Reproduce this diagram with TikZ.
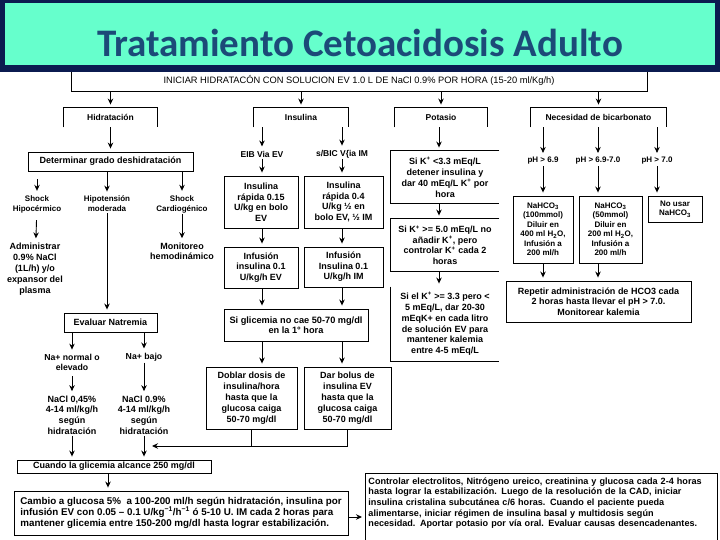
\documentclass[tikz,border=0pt]{standalone}
\usepackage{fontspec}
\setmainfont{Liberation Sans}
\newfontfamily\titlefont{Carlito}
\usepackage{graphicx}
\usepackage{tikz}
\usetikzlibrary{arrows.meta, calc}

\definecolor{bannernavy}{HTML}{0B1B50}
\definecolor{banneraqua}{HTML}{66FFCC}
\definecolor{titleblue}{HTML}{1C4A78}

\begin{document}
\begin{tikzpicture}[x=1pt, y=-1pt, line width=0.9pt,
    box/.style={draw, align=center, inner sep=0pt, font=\bfseries\fontsize{9}{10.5}\selectfont},
    lbl/.style={align=center, inner sep=1pt, font=\bfseries\fontsize{8}{10}\selectfont},
    brk/.style={align=center, inner sep=0pt, minimum height=19pt, font=\bfseries\fontsize{8.5}{10}\selectfont},
    arr/.style={-{Stealth[length=6pt, width=5.5pt]}, shorten >=3pt}]
    \useasboundingbox (0,0) rectangle (720,540);

    \node[box, font=\fontsize{9.3}{10}\selectfont, minimum width=576pt, minimum height=21pt] (start) at (359,80.5)
        {INICIAR HIDRATACÓN CON SOLUCION EV 1.0 L DE NaCl 0.9\% POR HORA (15-20 ml/Kg/h)};
    \fill[bannernavy] (0,0) rectangle (720,72);
    \fill[banneraqua] (5,3) rectangle (715,65);
    \node[font=\titlefont\bfseries\fontsize{39}{42}\selectfont, text=titleblue] (title) at (360,43) {Tratamiento Cetoacidosis Adulto};

    \node[brk, minimum width=93pt] (hid) at (110.5,117.5) {Hidratación};
    \node[brk, minimum width=94pt] (ins) at (301,117.5) {Insulina};
    \node[brk, minimum width=92pt] (pot) at (441,117.5) {Potasio};
    \node[brk, minimum width=135pt] (bic) at (598.5,117.5) {Necesidad de bicarbonato};
    \foreach \b in {hid, ins, pot, bic} {
        \draw (\b.south west) |- (\b.north east) -- (\b.south east);
        \draw[arr] (start.south -| \b) -- (\b.north);
    }

    \node[box, minimum width=165pt, minimum height=19pt, font=\bfseries\fontsize{9}{10}\selectfont] (det) at (110.5,161.5) {Determinar grado deshidratación};
    \draw[arr] (hid.south) -- (det.north);
    \node[lbl] (shk1) at (37,204) {Shock\\Hipocérmico};
    \node[lbl] (hipo) at (107,204) {Hipotensión\\moderada};
    \node[lbl] (shk2) at (182,204) {Shock\\Cardiogénico};
    \draw[arr, shorten <=8pt] (det.south -| shk1) -- (shk1);
    \draw[arr] (det.south -| hipo) -- (hipo);
    \draw[arr] (det.south -| shk2) -- (shk2);
    \node[lbl, font=\bfseries\fontsize{9}{11}\selectfont] (adm) at (35,269) {Administrar\\0.9\% NaCl\\(1L/h) y/o\\expansor del\\plasma};
    \node[lbl, font=\bfseries\fontsize{9}{10}\selectfont] (mon) at (182,251) {Monitoreo\\hemodinámico};
    \draw[arr, shorten <=6pt] (shk1) -- (adm);
    \draw[arr] (shk2) -- (mon);

    \node[box, minimum width=93pt, minimum height=19pt] (nat) at (110.5,322.5) {Evaluar Natremia};
    \draw[arr] (hipo) -- (hipo |- nat.north);
    \node[lbl, font=\bfseries\fontsize{8.7}{10.5}\selectfont] (nan) at (72,362.5) {Na+ normal o\\elevado};
    \node[lbl, font=\bfseries\fontsize{8.7}{10.5}\selectfont] (nab) at (144,357) {Na+ bajo};
    \draw[arr] (nat.south -| nan) -- (nan);
    \draw[arr] (nat.south -| nab) -- (nab);
    \node[lbl, font=\bfseries\fontsize{9}{10.7}\selectfont] (nacl1) at (72,415) {NaCl 0,45\%\\4-14 ml/kg/h\\según\\hidratación};
    \node[lbl, font=\bfseries\fontsize{9}{10.7}\selectfont] (nacl2) at (144,415) {NaCl 0.9\%\\4-14 ml/kg/h\\según\\hidratación};
    \draw[arr, shorten <=4pt] (nan) -- (nacl1);
    \draw[arr] (nab) -- (nacl2);

    \node[box, minimum width=194pt, minimum height=13pt, font=\bfseries\fontsize{9}{10}\selectfont] (cuando) at (114,466.5) {Cuando la glicemia alcance 250 mg/dl};
    \draw[arr] (nacl1) -- (nacl1 |- cuando.north);
    \draw[arr] (nacl2) -- (nacl2 |- cuando.north);
    \node[box, minimum width=334pt, minimum height=44pt, align=left, font=\bfseries\fontsize{9.8}{11}\selectfont] (cambio) at (181,513)
        {Cambio a glucosa 5\%\ \ a 100-200 ml/h según hidratación, insulina por\\
         infusión EV con 0.05 – 0.1 U/kg\textsuperscript{−1}/h\textsuperscript{−1} ó 5-10 U. IM cada 2 horas para\\
         mantener glicemia entre 150-200 mg/dl hasta lograr estabilización.};
    \draw[arr] ([xshift=-6pt]cuando.south) -- ([xshift=-6pt]cuando.south |- cambio.north);
    \node[box, anchor=north west, text width=346pt, inner xsep=3pt, inner ysep=4pt, align=left, font=\bfseries\fontsize{9.1}{10.7}\selectfont] (contr) at (365,473)
        {Controlar electrolitos, Nitrógeno ureico, creatinina y glucosa cada 2-4 horas\\
         hasta lograr la estabilización. Luego de la resolución de la CAD, iniciar\\
         insulina cristalina subcutánea c/6 horas. Cuando el paciente pueda\\
         alimentarse, iniciar régimen de insulina basal y multidosis según\\
         necesidad. Aportar potasio por vía oral. Evaluar causas desencadenantes.\\ ~};
    \draw[arr] ([yshift=-4pt]cambio.east) -- ([yshift=-4pt]cambio.east -| contr.west);

    \node[lbl, font=\bfseries\fontsize{8.5}{10}\selectfont] (eib) at (262,154) {EIB Via EV};
    \node[lbl, font=\bfseries\fontsize{8.5}{10}\selectfont] (sbic) at (342,154) {s/BIC V\{ia IM};
    \draw[arr] (ins.south -| eib) -- (eib);
    \draw[arr] (ins.south -| sbic) -- (sbic);
    \node[box, minimum width=74pt, minimum height=52pt] (r15) at (261,202) {Insulina\\rápida 0.15\\U/kg en bolo\\EV};
    \node[box, minimum width=79pt, minimum height=52pt] (r04) at (343.5,202) {Insulina\\rápida 0.4\\U/kg ½ en\\bolo EV, ½ IM};
    \draw[arr] (eib) -- (eib |- r15.north);
    \draw[arr] (sbic) -- (sbic |- r04.north);
    \node[box, minimum width=74pt, minimum height=41pt] (inf1) at (261,267.5) {Infusión\\insulina 0.1\\U/kg/h EV};
    \node[box, minimum width=79pt, minimum height=40pt] (inf2) at (343.5,267) {Infusión\\Insulina 0.1\\U/kg/h IM};
    \draw[arr] (r15.south -| eib) -- (eib |- inf1.north);
    \draw[arr] (r04.south -| sbic) -- (sbic |- inf2.north);
    \node[box, minimum width=144pt, minimum height=32pt, font=\bfseries\fontsize{9.2}{10}\selectfont] (sig) at (296,325) {Si glicemia no cae 50-70 mg/dl\\en la 1° hora};
    \draw[arr] (inf1.south -| eib) -- (eib |- sig.north);
    \draw[arr] (inf2.south -| sbic) -- (sbic |- sig.north);
    \node[box, minimum width=91pt, minimum height=62pt, font=\bfseries\fontsize{9}{11}\selectfont] (dob) at (251.5,398) {Doblar dosis de\\insulina/hora\\hasta que la\\glucosa caiga\\50-70 mg/dl};
    \node[box, minimum width=87pt, minimum height=62pt, font=\bfseries\fontsize{9}{11}\selectfont] (dar) at (347.5,398) {Dar bolus de\\insulina EV\\hasta que la\\glucosa caiga\\50-70 mg/dl};
    \draw[arr] (sig.south -| eib) -- (eib |- dob.north);
    \draw[arr] (sig.south -| sbic) -- (sbic |- dar.north);
    \coordinate (jn) at (347.5,446);
    \coordinate (jtip) at (152,446);
    \draw (dob.south) -- (dob.south |- jn);
    \draw (dar.south) -- (jn);
    \draw[arr, shorten >=0pt] (jn) -- (jtip);

    \node[box, draw=none, minimum width=108pt, minimum height=52pt, font=\bfseries\fontsize{9}{11}\selectfont] (k1) at (445,177)
        {Si K\textsuperscript{+} <3.3 mEq/L\\detener insulina y\\dar 40 mEq/L K\textsuperscript{+} por\\hora};
    \node[box, draw=none, minimum width=108pt, minimum height=52pt, font=\bfseries\fontsize{9}{10.5}\selectfont] (k2) at (445,245)
        {Si K\textsuperscript{+} >= 5.0 mEq/L no\\añadir K\textsuperscript{+}, pero\\controlar K\textsuperscript{+} cada 2\\horas};
    \node[box, draw=none, minimum width=108pt, minimum height=74pt, font=\bfseries\fontsize{9}{10.8}\selectfont] (k3) at (445,324)
        {Si el K\textsuperscript{+} >= 3.3 pero <\\5 mEq/L, dar 20-30\\mEqK+ en cada litro\\de solución EV para\\mantener kalemia\\entre 4-5 mEq/L};
    \draw (k1.north east) -- (k1.north west) -- (k1.south west) -- (k1.south east);
    \draw (k2.north east) -- (k2.north west) -- (k2.south west) -- (k2.south east);
    \draw (k3.north west) -- (k3.south west) -- (k3.south east);
    \draw[arr] (pot.south -| 439,0) -- (k1.north -| 439,0);
    \draw[arr] (k1.south -| 439,0) -- (k2.north -| 439,0);
    \draw[arr] (k2.south -| 439,0) -- (k3.north -| 439,0);

    \node[lbl] (ph1) at (543,161) {pH > 6.9};
    \node[lbl] (ph2) at (598,161) {pH > 6.9-7.0};
    \node[lbl] (ph3) at (657,161) {pH > 7.0};
    \foreach \p in {ph1, ph2, ph3}
        \draw[arr] (bic.south -| \p) -- (\p);
    \node[box, minimum width=60pt, minimum height=67pt, font=\bfseries\fontsize{8}{9.5}\selectfont] (nah1) at (543,229.5)
        {NaHCO\textsubscript{3}\\(100mmol)\\Diluir en\\400 ml H\textsubscript{2}O,\\Infusión a\\200 ml/h};
    \node[box, minimum width=63pt, minimum height=67pt, font=\bfseries\fontsize{8}{9.5}\selectfont] (nah2) at (610.5,229.5)
        {NaHCO\textsubscript{3}\\(50mmol)\\Diluir en\\200 ml H\textsubscript{2}O,\\Infusión a\\200 ml/h};
    \node[box, minimum width=54pt, minimum height=26pt, font=\bfseries\fontsize{8}{9.5}\selectfont] (nous) at (675,209) {No usar\\NaHCO\textsubscript{3}};
    \draw[arr] (ph1) -- (nah1);
    \draw[arr] (ph2) -- (ph2 |- nah2.north);
    \draw[arr] (ph3) -- (ph3 |- nous.north);
    \node[box, minimum width=185pt, minimum height=41pt, font=\bfseries\fontsize{9}{10.5}\selectfont] (rep) at (598.5,301.5)
        {Repetir administración de HCO3 cada\\2 horas hasta llevar el pH > 7.0.\\Monitorear kalemia};
    \draw[arr] (nah1) -- (nah1 |- rep.north);
    \draw[arr] (nah2.south -| ph2) -- (ph2 |- rep.north);
\end{tikzpicture}
\end{document}
